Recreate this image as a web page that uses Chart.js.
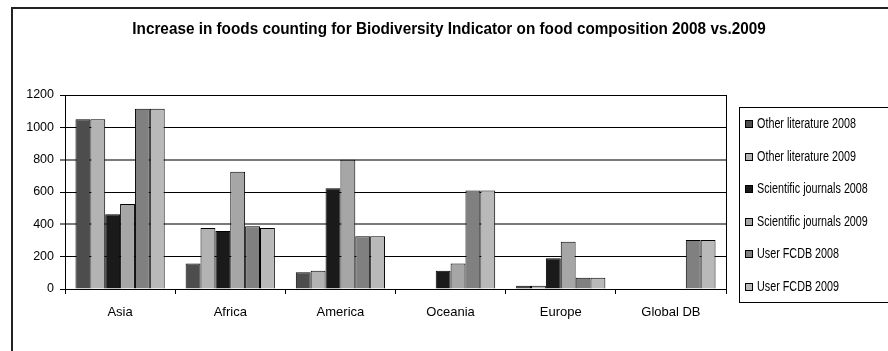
<!DOCTYPE html>
<html>
<head>
<meta charset="utf-8">
<title>Biodiversity Indicator on food composition</title>
<script src="https://cdn.jsdelivr.net/npm/chart.js@4/dist/chart.umd.min.js"></script>
<style>
  html, body { margin: 0; padding: 0; background: #ffffff; }
  canvas { display: block; }
</style>
</head>
<body>
<canvas id="chart" width="888" height="351"></canvas>
<script>
// Regions on the x axis
const regions = ['Asia', 'Africa', 'America', 'Oceania', 'Europe', 'Global DB'];

// Number of foods per source and year
const otherLit2008     = [1050, 157, 103,   0,  20,   0];
const otherLit2009     = [1050, 377, 113,   0,  20,   0];
const sciJournals2008  = [ 462, 359, 623, 113, 190,   0];
const sciJournals2009  = [ 526, 725, 800, 157, 293,   0];
const userFcdb2008     = [1115, 388, 326, 610,  70, 303];
const userFcdb2009     = [1115, 377, 326, 610,  70, 303];

const seriesLabels = [
  'Other literature 2008', 'Other literature 2009',
  'Scientific journals 2008', 'Scientific journals 2009',
  'User FCDB 2008', 'User FCDB 2009'
];
const seriesValues = [otherLit2008, otherLit2009, sciJournals2008, sciJournals2009, userFcdb2008, userFcdb2009];
const seriesColors = ['#4d4d4d', '#b3b3b3', '#1a1a1a', '#a6a6a6', '#808080', '#b9b9b9'];

// Value axis
const yMin = 0, yMax = 1200, yStep = 200;

const chartTitle = 'Increase in foods counting for Biodiversity Indicator on food composition 2008 vs.2009';

const FONT = "'Liberation Sans', Arial, sans-serif";

// Draws text squeezed horizontally, like a condensed face
function narrowText(ctx, text, x, y, squeeze) {
  ctx.save();
  ctx.translate(x, y);
  ctx.scale(squeeze, 1);
  ctx.fillText(text, 0, 0);
  ctx.restore();
}

// Frame, title, plot border and the boxed legend
const decorations = {
  id: 'decorations',
  beforeDraw(chart) {
    const ctx = chart.ctx;
    ctx.save();
    ctx.fillStyle = '#ffffff';
    ctx.fillRect(0, 0, chart.width, chart.height);
    ctx.strokeStyle = '#222222';
    ctx.lineWidth = 2;
    ctx.strokeRect(12, 8, chart.width + 20, chart.height + 20);
    ctx.fillStyle = '#000000';
    ctx.font = 'bold 17px ' + FONT;
    ctx.textAlign = 'center';
    ctx.textBaseline = 'middle';
    narrowText(ctx, chartTitle, 449, 29, 0.9);
    ctx.restore();
  },
  afterDraw(chart) {
    const ctx = chart.ctx;
    const a = chart.chartArea;
    ctx.save();
    ctx.strokeStyle = '#000000';
    ctx.lineWidth = 1;
    ctx.strokeRect(Math.round(a.left) + 0.5, Math.round(a.top) + 0.5,
                   Math.round(a.right - a.left), Math.round(a.bottom - a.top));

    // legend box
    const lx = 739, ly = 107, lh = 195;
    ctx.strokeRect(lx + 0.5, ly + 0.5, chart.width, lh);
    ctx.font = '14px ' + FONT;
    ctx.textAlign = 'left';
    ctx.textBaseline = 'middle';
    const rowGap = 32.5;
    chart.data.datasets.forEach((ds, i) => {
      const cy = Math.round(ly + 17 + i * rowGap);
      ctx.fillStyle = ds.backgroundColor;
      ctx.fillRect(745, cy - 4, 8, 8);
      ctx.strokeStyle = '#000000';
      ctx.strokeRect(745.5, cy - 3.5, 7, 7);
      ctx.fillStyle = '#000000';
      narrowText(ctx, ds.label, 757, cy, 0.77);
    });
    ctx.restore();
  }
};

new Chart(document.getElementById('chart'), {
  type: 'bar',
  data: {
    labels: regions,
    datasets: seriesLabels.map((label, i) => ({
      label: label,
      data: seriesValues[i],
      backgroundColor: seriesColors[i],
      borderColor: '#000000',
      borderWidth: 1,
      borderSkipped: 'start',
      categoryPercentage: 0.81,
      barPercentage: 1.0
    }))
  },
  options: {
    responsive: false,
    animation: false,
    devicePixelRatio: 1,
    layout: { padding: { left: 0, top: 95, right: 162, bottom: 0 } },
    plugins: {
      legend: { display: false },
      title: { display: false },
      tooltip: { enabled: false }
    },
    scales: {
      x: {
        afterFit(scale) { scale.height = 62; },
        grid: {
          offset: true,
          drawOnChartArea: false,
          drawTicks: true,
          tickLength: 5,
          color: '#000000'
        },
        border: { display: true, color: '#000000', width: 1 },
        ticks: {
          color: '#000000',
          padding: 11,
          font: { family: FONT, size: 13 }
        }
      },
      y: {
        min: yMin,
        max: yMax,
        afterFit(scale) { scale.width = 65; },
        grid: {
          drawTicks: true,
          tickLength: 5,
          color: (c) => (c.tick && (c.tick.value === 400 || c.tick.value === 800)) ? '#7a7a7a' : '#000000',
          lineWidth: (c) => (c.tick && (c.tick.value === 400 || c.tick.value === 800)) ? 2 : 1
        },
        border: { display: true, color: '#000000', width: 1 },
        ticks: {
          stepSize: yStep,
          color: '#000000',
          padding: 6,
          font: { family: FONT, size: 12.5 },
          callback: (v) => String(v)
        }
      }
    }
  },
  plugins: [decorations]
});
</script>
</body>
</html>
